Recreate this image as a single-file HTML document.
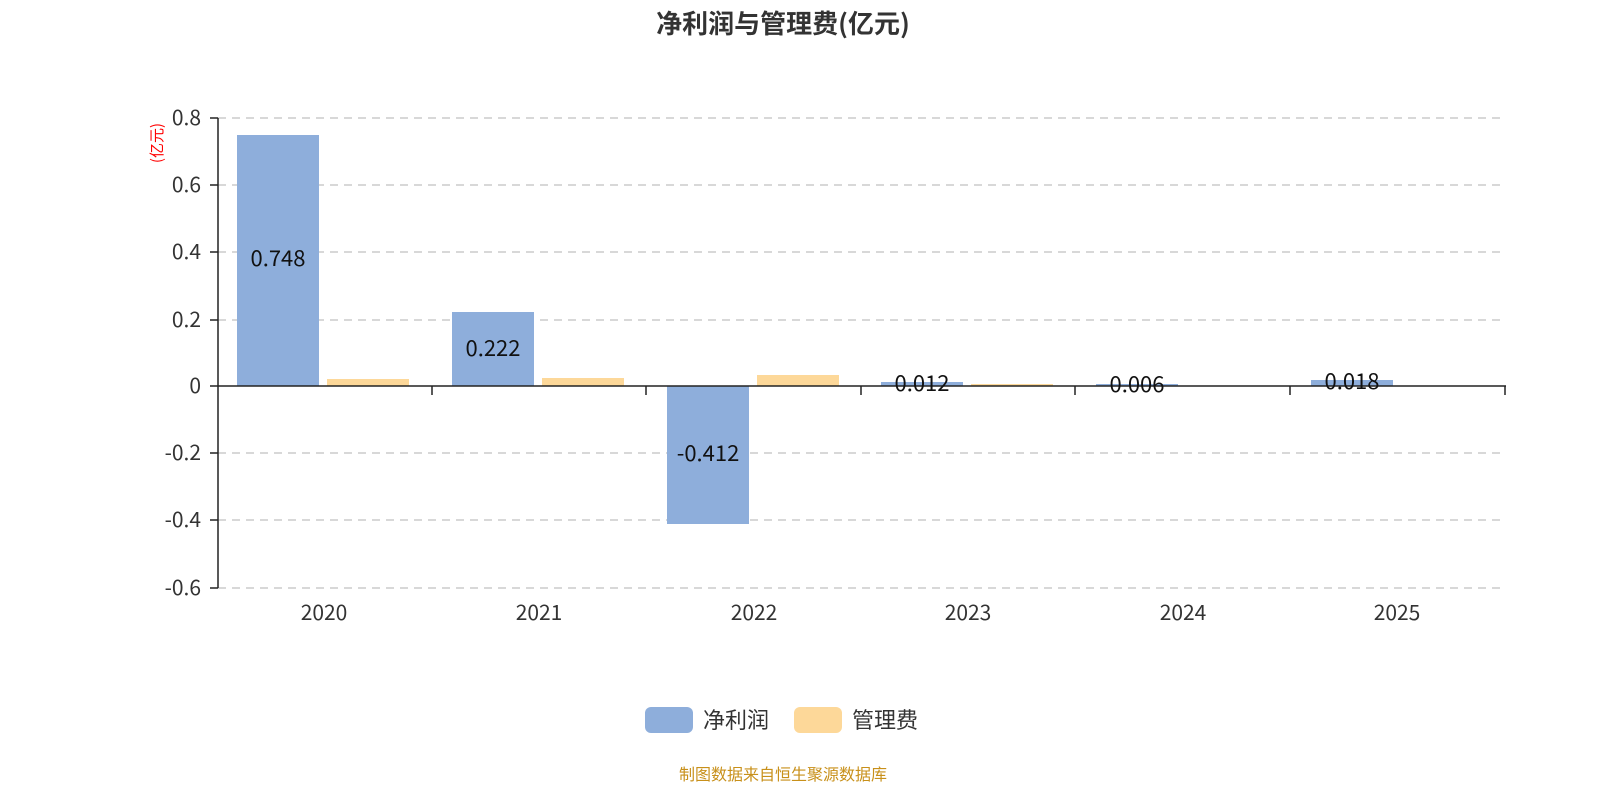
<!DOCTYPE html>
<html><head><meta charset="utf-8"><style>body{margin:0;background:#fff}svg{display:block}</style></head><body>
<svg width="1600" height="800" xmlns="http://www.w3.org/2000/svg" font-family="'Noto Sans CJK SC','Liberation Sans',sans-serif">
<text x="783" y="33" text-anchor="middle" font-size="26" font-weight="bold" fill="#333">净利润与管理费(亿元)</text>
<g stroke="#ccc" stroke-dasharray="8,6" stroke-width="1.5">
<line x1="218" y1="118" x2="1505" y2="118"/><line x1="218" y1="185" x2="1505" y2="185"/>
<line x1="218" y1="252" x2="1505" y2="252"/><line x1="218" y1="320" x2="1505" y2="320"/>
<line x1="218" y1="453" x2="1505" y2="453"/><line x1="218" y1="520" x2="1505" y2="520"/>
<line x1="218" y1="588" x2="1505" y2="588"/>
</g>
<g fill="#8eaedb">
<rect x="237" y="135" width="82" height="251"/>
<rect x="452" y="312" width="82" height="74"/>
<rect x="667" y="386" width="82" height="138"/>
<rect x="881" y="382" width="82" height="4"/>
<rect x="1096" y="384" width="82" height="2"/>
<rect x="1311" y="380" width="82" height="6"/>
</g>
<g fill="#fdd899">
<rect x="327" y="379" width="82" height="7"/>
<rect x="542" y="378" width="82" height="8"/>
<rect x="757" y="375" width="82" height="11"/>
<rect x="971" y="384" width="82" height="2"/>
</g>
<g stroke="#222" stroke-width="1.5">
<line x1="218" y1="118" x2="218" y2="588"/>
<line x1="218" y1="386" x2="1506" y2="386"/>
<line x1="210" y1="118" x2="218" y2="118"/><line x1="210" y1="185" x2="218" y2="185"/>
<line x1="210" y1="252" x2="218" y2="252"/><line x1="210" y1="320" x2="218" y2="320"/>
<line x1="210" y1="386" x2="218" y2="386"/><line x1="210" y1="453" x2="218" y2="453"/>
<line x1="210" y1="520" x2="218" y2="520"/><line x1="210" y1="588" x2="218" y2="588"/>
<line x1="432" y1="386" x2="432" y2="395"/><line x1="646" y1="386" x2="646" y2="395"/>
<line x1="861" y1="386" x2="861" y2="395"/><line x1="1075" y1="386" x2="1075" y2="395"/>
<line x1="1290" y1="386" x2="1290" y2="395"/><line x1="1505" y1="386" x2="1505" y2="395"/>
</g>
<g font-size="21" fill="#333" text-anchor="end">
<text x="201" y="125">0.8</text><text x="201" y="192">0.6</text><text x="201" y="259">0.4</text>
<text x="201" y="327">0.2</text><text x="201" y="393">0</text><text x="201" y="460">-0.2</text>
<text x="201" y="527">-0.4</text><text x="201" y="595">-0.6</text>
</g>
<g font-size="21" fill="#333" text-anchor="middle">
<text x="324" y="620">2020</text><text x="539" y="620">2021</text><text x="754" y="620">2022</text>
<text x="968" y="620">2023</text><text x="1183" y="620">2024</text><text x="1397" y="620">2025</text>
</g>
<g font-size="22" fill="#111" text-anchor="middle">
<text x="278" y="266">0.748</text><text x="493" y="356">0.222</text><text x="708" y="461">-0.412</text>
<text x="922" y="391">0.012</text><text x="1137" y="392">0.006</text><text x="1352" y="389">0.018</text>
</g>
<text transform="translate(162,143) rotate(-90)" text-anchor="middle" font-size="15" fill="#f00">(亿元)</text>
<rect x="645" y="707" width="48" height="26" rx="6" fill="#8eaedb"/>
<text x="703" y="728" font-size="22" fill="#333">净利润</text>
<rect x="794" y="707" width="48" height="26" rx="6" fill="#fdd899"/>
<text x="852" y="728" font-size="22" fill="#333">管理费</text>
<text x="783" y="780" text-anchor="middle" font-size="16" fill="#c8901a">制图数据来自恒生聚源数据库</text>
</svg>
</body></html>
